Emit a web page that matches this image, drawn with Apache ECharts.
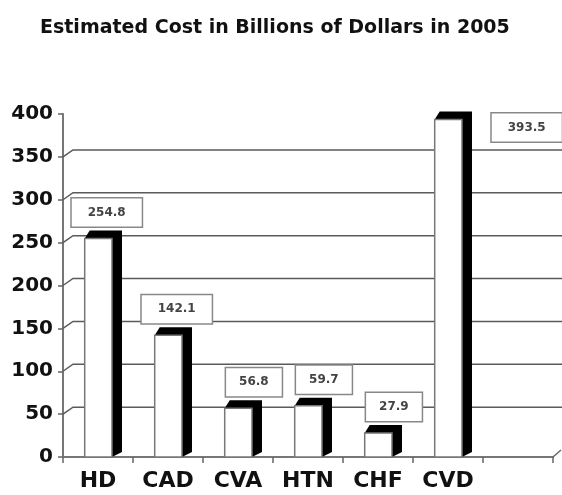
<!DOCTYPE html>
<html><head><meta charset="utf-8">
<script src="https://cdn.jsdelivr.net/npm/echarts@6/dist/echarts.min.js"></script>
<style>html,body{margin:0;padding:0;background:#fff}#c{width:562px;height:495px}</style>
</head><body><div id="c"></div>
<script>
const titleText = 'Estimated Cost in Billions of Dollars in 2005';
const categories = ['HD', 'CAD', 'CVA', 'HTN', 'CHF', 'CVD', ''];
const costs = [254.8, 142.1, 56.8, 59.7, 27.9, 393.5];
const costLabels = ['254.8', '142.1', '56.8', '59.7', '27.9', '393.5'];
const yTicks = [0, 50, 100, 150, 200, 250, 300, 350];

const DX = 10, DY = 7;
const FONT = '"DejaVu Sans", sans-serif';

function renderGrid(params, api) {
  const v = api.value(1);
  const cs = params.coordSys;
  const y = api.coord([0, v])[1];
  const x0 = cs.x, x1 = cs.x + cs.width;
  if (v === 0) {
    return { type: 'line', shape: { x1: x1, y1: y, x2: x1 + 8, y2: y - DY }, style: { stroke: '#666', lineWidth: 1.5 } };
  }
  return { type: 'polyline', shape: { points: [[x0, y], [x0 + DX, y - DY], [x1 + 9, y - DY]] }, style: { stroke: '#5a5a5a', lineWidth: 1.5, fill: null } };
}

function renderBar(params, api) {
  const i = api.value(0), v = api.value(1);
  const top = api.coord([i, v]), base = api.coord([i, 0]);
  const band = api.size([1, 0])[0];
  const cx = top[0];
  const xL = cx - band * 0.19, xR = cx + band * 0.2;
  const yT = top[1], y0 = base[1];
  const children = [
    { type: 'polygon', shape: { points: [[xL, yT], [xL + 5, yT - DY - 1], [xR + DX, yT - DY - 1], [xR + DX, y0 - 5], [xR, y0]] }, style: { fill: '#000' } },
    { type: 'rect', shape: { x: xL, y: yT, width: xR - xL, height: y0 - yT }, style: { fill: '#fff', stroke: '#777', lineWidth: 1.5 } }
  ];
  const txt = costLabels[params.dataIndex];
  const beside = v > 350;
  let right = xL + 57, bottom = yT - 12;
  if (beside) { right = xL + band + 57; bottom = yT + 22; }
  const padH = txt.length > 4 ? 16 : 13;
  children.push({
    type: 'text', x: right, y: bottom, z2: 10,
    style: { text: txt, align: 'right', verticalAlign: 'bottom', font: 'bold 12px ' + FONT, fill: '#444',
      backgroundColor: '#fff', borderColor: '#888', borderWidth: 1.5, padding: [8, padH] }
  });
  return { type: 'group', children: children };
}

const chart = echarts.init(document.getElementById('c'), null, { renderer: 'canvas' });
chart.setOption({
  animation: false,
  backgroundColor: '#fff',
  title: {
    text: titleText, left: 35, top: 14,
    textStyle: { fontFamily: FONT, fontWeight: 'bold', fontSize: 19, color: '#111' }
  },
  grid: { left: 63, right: 9, top: 114, bottom: 38, containLabel: false },
  xAxis: {
    type: 'category', data: categories,
    axisLine: { lineStyle: { color: '#777', width: 2 } },
    axisTick: { show: true, length: 6, lineStyle: { color: '#666', width: 1.5 } },
    axisLabel: { fontFamily: FONT, fontWeight: 'bold', fontSize: 22, color: '#111', margin: 13 },
    splitLine: { show: false }
  },
  yAxis: {
    type: 'value', min: 0, max: 400, interval: 50,
    axisLine: { show: true, lineStyle: { color: '#777', width: 2 } },
    axisTick: { show: true, length: 5, lineStyle: { color: '#666', width: 1.5 } },
    axisLabel: { fontFamily: FONT, fontWeight: 'bold', fontSize: 20, color: '#111', margin: 10 },
    splitLine: { show: false }
  },
  series: [
    { type: 'custom', renderItem: renderGrid, data: yTicks.map(v => [0, v]), silent: true, z: 1 },
    { type: 'custom', renderItem: renderBar, data: costs.map((v, i) => [i, v]), z: 2 }
  ]
});
</script>
</body></html>
